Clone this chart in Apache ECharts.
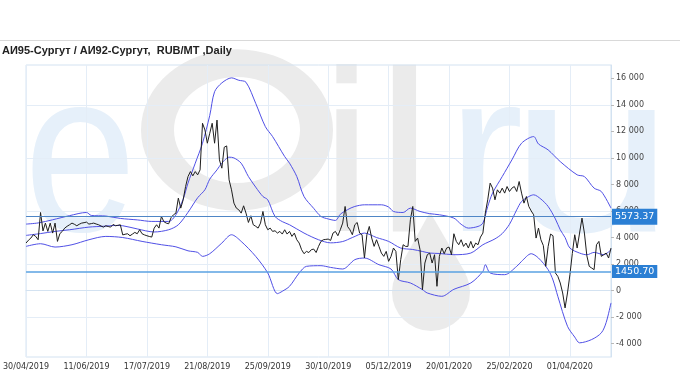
<!DOCTYPE html>
<html><head><meta charset="utf-8">
<script src="https://cdn.jsdelivr.net/npm/echarts@6/dist/echarts.min.js"></script>
<style>html,body{margin:0;padding:0;background:#fff}#c{width:680px;height:380px}</style>
</head><body><div id="c"></div>
<script>
const titleText = 'АИ95-Сургут / АИ92-Сургут,  RUB/MT ,Daily';
const tickLabels = ['30/04/2019','11/06/2019','17/07/2019','21/08/2019','25/09/2019','30/10/2019','05/12/2019','20/01/2020','25/02/2020','01/04/2020'];
const yTickValues = [-4000,-2000,0,2000,4000,6000,8000,10000,12000,14000,16000];
const labelEvery = 25;
const pointCount = 243;
const levels = [5573.37, 1450.70];

const price = [3587,3800,3960,4211,4086,3835,5890,4500,5088,4462,
5088,4337,5088,3710,4300,4462,4712,4850,4963,5088,
5000,4888,5000,5088,5120,5163,5013,5050,5088,5020,
4963,4870,4787,4888,4830,4787,4988,4888,4920,4963,
4200,4250,4286,4136,4260,4387,4286,4587,4286,4200,
4136,4080,4036,4712,4963,4712,5590,5200,5088,5038,
5500,5715,5840,6969,6217,6843,7844,8595,8971,8648,
8971,8723,9099,12611,12107,11107,11859,12611,11107,12850,
9851,9227,10806,10904,8347,7595,6593,6217,6091,5840,
6392,5840,5138,5640,4963,4850,4712,5088,5965,4963,
4587,4712,4462,4512,4337,4462,4262,4587,4262,4462,
4086,4337,3835,3585,3083,2782,2957,2870,3083,3133,
2870,3334,3710,3835,3860,3885,3785,4337,4462,4136,
4587,5088,6342,4837,4587,4211,4963,5138,4337,4211,
2457,4211,4837,3960,3334,3835,3334,2832,2582,2957,
2206,2582,3209,2957,830,2332,3459,3334,3334,5339,
6342,3710,3960,3083,75,2081,2707,2832,2081,2707,
326,2582,3209,2782,3209,3284,2707,4286,3710,3459,
3835,3334,3584,3209,3710,3209,3584,3459,4036,4337,
5840,6843,8099,7723,6843,7596,7347,7723,7347,7844,
7470,7723,7844,7470,8222,7347,6593,7091,6342,6000,
5715,3960,4712,3835,3400,1830,3334,4262,4136,1330,
1078,577,-176,-1303,-176,1200,2800,4211,3209,4337,
5464,4337,2632,1830,1704,1579,3459,3710,2582,2707,
2832,2457,3209];

const upperBand = [[0,5013],[5,5100],[11,5339],[18,5650],[25,5890],[27,5665],[33,5620],[39,5440],[46,5330],[52,5214],[59,5214],[62,5715],[65,6900],[67,8099],[70,9600],[73,11107],[76,13200],[78,14987],[81,15650],[85,16030],[88,15850],[91,15700],[95,14115],[99,12355],[102,11607],[107,10100],[109,9603],[112,8600],[115,7091],[119,6200],[122,5590],[125,5400],[128,5289],[130,5750],[133,6100],[136,6342],[140,6467],[147,6467],[150,6300],[152,5965],[156,5890],[159,6217],[163,5965],[167,5800],[171,5715],[177,5464],[180,5000],[183,4712],[187,4837],[189,5088],[191,6342],[193,7347],[197,8595],[201,9851],[205,11107],[210,11607],[212,11050],[216,10603],[221,9723],[228,8723],[231,8595],[235,7723],[238,7467],[242,6217]];

const middleBand = [[0,4161],[6,4300],[12,4462],[18,4587],[26,4787],[32,4850],[37,4912],[40,4888],[46,4650],[53,4420],[59,4587],[63,4963],[67,5900],[71,7000],[74,7600],[76,8400],[79,9100],[81,9600],[84,10054],[86,10000],[89,9600],[92,8595],[95,7800],[98,7091],[100,6843],[103,5590],[106,5200],[109,4963],[115,4337],[121,3835],[126,3600],[131,3700],[135,4000],[140,4337],[145,4000],[150,3710],[155,3209],[160,3100],[164,2950],[167,2832],[171,2800],[177,2707],[184,2832],[189,3459],[194,3900],[197,4300],[200,5000],[203,6091],[205,6716],[208,7091],[210,7219],[213,6900],[216,6342],[219,5400],[221,4587],[223,4000],[225,3209],[229,2832],[232,2700],[235,2882],[239,2707],[242,3083]];

const lowerBand = [[0,3334],[6,3535],[12,3284],[19,3459],[26,3835],[33,4086],[40,4000],[48,3710],[56,3459],[62,3300],[67,3000],[71,2882],[73,2582],[76,2782],[81,3585],[85,4211],[89,3710],[95,2582],[100,1330],[104,-226],[106,-50],[109,326],[113,1330],[116,1830],[122,1880],[126,1750],[131,1630],[136,2332],[140,2457],[146,1955],[151,1630],[154,830],[159,577],[164,75],[166,-176],[172,-427],[177,100],[184,577],[189,1451],[190,1955],[192,1330],[198,1203],[203,1830],[205,2206],[209,2782],[212,2457],[216,1579],[218,800],[220,-427],[224,-2685],[227,-3500],[229,-3933],[234,-3685],[238,-3181],[240,-2400],[242,-925]];

const categories = [];
for (let i = 0; i < pointCount; i++) categories.push(i);

function fmtThousands(v) {
  const s = Math.abs(v).toString().replace(/\B(?=(\d{3})+(?!\d))/g, ' ');
  return (v < 0 ? '-' : '') + s;
}

const chart = echarts.init(document.getElementById('c'), null, {renderer: 'canvas'});
const bandColor = '#5050e6';
const gray = '#ebebeb';
const lightBlue = '#e6f0fa';
const wmFont = '230px "Liberation Sans"';

function wmText(ch, x, color, sx) {
  return {type: 'text', z: -10, silent: true, x: x, y: 53, scaleX: sx || 1, style: {text: ch, font: wmFont, fill: color}};
}

chart.setOption({
  animation: false,
  backgroundColor: '#ffffff',
  title: {
    text: titleText, left: 2, top: 45, padding: 0,
    textStyle: {fontSize: 11, fontWeight: 'bold', fontFamily: 'Liberation Sans', color: '#222'}
  },
  graphic: [
    {type: 'line', z: -5, silent: true, shape: {x1: 0, y1: 40.5, x2: 680, y2: 40.5}, style: {stroke: '#d9d9d9', lineWidth: 1}},
    wmText('e', 24, lightBlue, 0.88),
    {type: 'ring', z: -10, silent: true, x: 237, y: 130, scaleY: 0.84, shape: {cx: 0, cy: 0, r: 96, r0: 63}, style: {fill: gray}},
    wmText('i', 321, gray),
    wmText('l', 375, gray, 1.15),
    {type: 'circle', z: -10, silent: true, shape: {cx: 431, cy: 292, r: 39}, style: {fill: gray}},
    {type: 'polygon', z: -10, silent: true, shape: {points: [[430, 212], [396, 274], [466, 274]]}, style: {fill: gray}},
    wmText('r', 447, lightBlue),
    wmText('u', 509, lightBlue, 1.3)
  ],
  grid: {left: 23, right: 69, top: 65, bottom: 23, show: true, borderColor: '#d3e2f1', borderWidth: 1, backgroundColor: 'transparent'},
  xAxis: {
    type: 'category', data: categories, boundaryGap: false,
    axisLine: {lineStyle: {color: '#d3e2f1'}},
    axisTick: {show: false},
    axisLabel: {
      interval: labelEvery - 1, margin: 6, fontSize: 8, fontFamily: 'DejaVu Sans', color: '#333',
      formatter: (v, idx) => (idx % labelEvery === 0 && tickLabels[idx / labelEvery]) ? tickLabels[idx / labelEvery] : ''
    },
    splitLine: {show: true, interval: labelEvery - 1, lineStyle: {color: '#e4edf7', width: 1}}
  },
  yAxis: {
    type: 'value', position: 'right', min: -5000, max: 17000, interval: 1000,
    axisLine: {show: true, lineStyle: {color: '#d3e2f1'}},
    axisTick: {show: true, length: 3, customValues: yTickValues, lineStyle: {color: '#b9b9b9'}},
    axisLabel: {
      margin: 5, fontSize: 8, fontFamily: 'DejaVu Sans', color: '#444',
      formatter: v => (v % 2000 === 0) ? fmtThousands(v) : ''
    },
    splitLine: {show: true, lineStyle: {color: ['rgba(0,0,0,0)', '#e4edf7'], width: 1}}
  },
  series: [
    {type: 'line', name: 'upper', data: upperBand, showSymbol: false, smooth: 0.3, lineStyle: {color: bandColor, width: 1}, z: 3},
    {type: 'line', name: 'middle', data: middleBand, showSymbol: false, smooth: 0.3, lineStyle: {color: bandColor, width: 1}, z: 3},
    {type: 'line', name: 'lower', data: lowerBand, showSymbol: false, smooth: 0.3, lineStyle: {color: bandColor, width: 1}, z: 3},
    {
      type: 'line', name: 'price', data: price, showSymbol: false, lineStyle: {color: '#1e1e1e', width: 1}, z: 4,
      markLine: {
        silent: true, symbol: 'none',
        data: levels.map((lv, k) => ({
          yAxis: lv,
          lineStyle: {color: k === 0 ? '#4f86c6' : '#5aa2e2', width: k === 0 ? 1 : 1.5, type: 'solid'},
          label: {
            show: true, position: 'end', distance: 1, formatter: lv.toFixed(2),
            backgroundColor: '#2b7fd4', color: '#fff', fontSize: 9.5, fontFamily: 'DejaVu Sans',
            padding: k === 0 ? [4, 3, 2, 3] : [2, 3, 1, 3]
          }
        }))
      }
    }
  ]
});
</script></body></html>
